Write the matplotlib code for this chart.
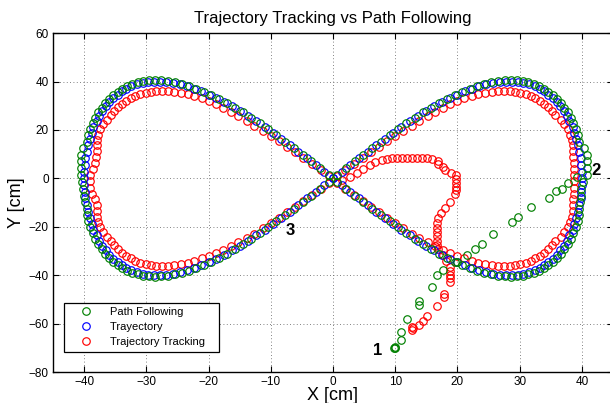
import matplotlib
matplotlib.use('Agg')
import matplotlib.pyplot as plt

plt.rcParams['font.family'] = ['Liberation Sans', 'DejaVu Sans']

# reference trajectory (figure eight)
traj_x = [0, 1.4, 2.8, 4.2, 5.6, 6.9, 8.3, 9.7, 11.0, 12.4, 13.7, 15.0, 16.3, 17.5, 18.8,
          20.0, 21.2, 22.4, 23.5, 24.6, 25.7, 26.8, 27.8, 28.8, 29.7, 30.6, 31.5, 32.4, 33.2,
          33.9, 34.6, 35.3, 36.0, 36.5, 37.1, 37.6, 38.0, 38.5, 38.8, 39.1, 39.4, 39.6, 39.8,
          39.9, 40.0,
          40.0, 40.0, 39.9, 39.8, 39.6, 39.4, 39.1, 38.8, 38.5, 38.0, 37.6, 37.1, 36.5, 36.0,
          35.3, 34.6, 33.9, 33.2, 32.4, 31.5, 30.6, 29.7, 28.8, 27.8, 26.8, 25.7, 24.6, 23.5,
          22.4, 21.2, 20.0, 18.8, 17.5, 16.3, 15.0, 13.7, 12.4, 11.0, 9.7, 8.3, 6.9, 5.6, 4.2,
          2.8, 1.4,
          0, -1.4, -2.8, -4.2, -5.6, -6.9, -8.3, -9.7, -11.0, -12.4, -13.7, -15.0, -16.3, -17.5,
          -18.8, -20.0, -21.2, -22.4, -23.5, -24.6, -25.7, -26.8, -27.8, -28.8, -29.7, -30.6,
          -31.5, -32.4, -33.2, -33.9, -34.6, -35.3, -36.0, -36.5, -37.1, -37.6, -38.0, -38.5,
          -38.8, -39.1, -39.4, -39.6, -39.8, -39.9, -40.0,
          -40.0, -40.0, -39.9, -39.8, -39.6, -39.4, -39.1, -38.8, -38.5, -38.0, -37.6, -37.1,
          -36.5, -36.0, -35.3, -34.6, -33.9, -33.2, -32.4, -31.5, -30.6, -29.7, -28.8, -27.8,
          -26.8, -25.7, -24.6, -23.5, -22.4, -21.2, -20.0, -18.8, -17.5, -16.3, -15.0, -13.7,
          -12.4, -11.0, -9.7, -8.3, -6.9, -5.6, -4.2, -2.8, -1.4]
traj_y = [0, 2.8, 5.6, 8.3, 11.0, 13.7, 16.3, 18.8, 21.2, 23.5, 25.7, 27.8, 29.7, 31.5, 33.2,
          34.6, 36.0, 37.1, 38.0, 38.8, 39.4, 39.8, 40.0, 40.0, 39.8, 39.4, 38.8, 38.0, 37.1,
          36.0, 34.6, 33.2, 31.5, 29.7, 27.8, 25.7, 23.5, 21.2, 18.8, 16.3, 13.7, 11.0, 8.3,
          5.6, 2.8,
          0, -2.8, -5.6, -8.3, -11.0, -13.7, -16.3, -18.8, -21.2, -23.5, -25.7, -27.8, -29.7,
          -31.5, -33.2, -34.6, -36.0, -37.1, -38.0, -38.8, -39.4, -39.8, -40.0, -40.0, -39.8,
          -39.4, -38.8, -38.0, -37.1, -36.0, -34.6, -33.2, -31.5, -29.7, -27.8, -25.7, -23.5,
          -21.2, -18.8, -16.3, -13.7, -11.0, -8.3, -5.6, -2.8,
          0, 2.8, 5.6, 8.3, 11.0, 13.7, 16.3, 18.8, 21.2, 23.5, 25.7, 27.8, 29.7, 31.5, 33.2,
          34.6, 36.0, 37.1, 38.0, 38.8, 39.4, 39.8, 40.0, 40.0, 39.8, 39.4, 38.8, 38.0, 37.1,
          36.0, 34.6, 33.2, 31.5, 29.7, 27.8, 25.7, 23.5, 21.2, 18.8, 16.3, 13.7, 11.0, 8.3,
          5.6, 2.8,
          0, -2.8, -5.6, -8.3, -11.0, -13.7, -16.3, -18.8, -21.2, -23.5, -25.7, -27.8, -29.7,
          -31.5, -33.2, -34.6, -36.0, -37.1, -38.0, -38.8, -39.4, -39.8, -40.0, -40.0, -39.8,
          -39.4, -38.8, -38.0, -37.1, -36.0, -34.6, -33.2, -31.5, -29.7, -27.8, -25.7, -23.5,
          -21.2, -18.8, -16.3, -13.7, -11.0, -8.3, -5.6, -2.8]

# path following: approach from point 1 to point 2, then the loop
pf_start_x = [9.8, 9.9, 10.0, 10.9, 10.9, 11.9, 13.8, 13.8, 15.9, 16.7, 17.7, 20.0, 21.5,
              22.8, 23.9, 25.7, 28.7, 29.7, 31.8, 34.7, 35.8, 36.8, 37.7, 39.2]
pf_start_y = [-70.2, -69.8, -70.0, -66.6, -63.5, -58.0, -52.5, -50.8, -45.0, -40.0, -38.0,
              -34.5, -31.5, -29.0, -27.0, -23.0, -18.0, -16.0, -12.0, -8.3, -5.3, -4.6,
              -1.8, 0.4]
pf_x = [0.7, 2.1, 3.5, 4.9, 6.3, 7.7, 9.1, 10.5, 11.8, 13.2, 14.5, 15.8, 17.1, 18.3, 19.6,
        20.8, 22.0, 23.2, 24.3, 25.4, 26.5, 27.6, 28.6, 29.5, 30.5, 31.4, 32.3, 33.1, 33.9,
        34.6, 35.3, 36.0, 36.6, 37.2, 37.7, 38.2, 38.6, 39.0, 39.3, 39.6, 40.3, 40.8, 40.8,
        40.8, 40.8,
        40.1, 39.9, 39.8, 39.7, 39.6, 39.5, 39.3, 39.0, 38.6, 38.2, 37.7, 37.2, 36.6, 36.0,
        35.3, 34.6, 33.9, 33.1, 32.3, 31.4, 30.5, 29.5, 28.6, 27.6, 26.5, 25.4, 24.3, 23.2,
        22.0, 20.8, 19.6, 18.3, 17.1, 15.8, 14.5, 13.2, 11.8, 10.5, 9.1, 7.7, 6.3, 4.9, 3.5,
        2.1, 0.7,
        -0.7, -2.1, -3.5, -4.9, -6.3, -7.7, -9.1, -10.5, -11.8, -13.2, -14.5, -15.8, -17.1,
        -18.3, -19.6, -20.8, -22.0, -23.2, -24.3, -25.4, -26.5, -27.6, -28.6, -29.5, -30.5,
        -31.4, -32.3, -33.1, -33.9, -34.6, -35.3, -36.0, -36.6, -37.2, -37.7, -38.2, -38.6,
        -39.0, -39.3, -39.6, -40.2, -40.5, -40.5, -40.5, -40.5,
        -40.3, -40.2, -40.0, -39.8, -39.6, -39.5, -39.3, -39.0, -38.6, -38.2, -37.7, -37.2,
        -36.6, -36.0, -35.3, -34.6, -33.9, -33.1, -32.3, -31.4, -30.5, -29.5, -28.6, -27.6,
        -26.5, -25.4, -24.3, -23.2, -22.0, -20.8, -19.6, -18.3, -17.1, -15.8, -14.5, -13.2,
        -11.8, -10.5, -9.1, -7.7, -6.3, -4.9, -3.5, -2.1, -0.7]
pf_y = [1.4, 4.3, 7.1, 9.8, 12.5, 15.2, 17.8, 20.3, 22.7, 25.0, 27.2, 29.2, 31.1, 32.8, 34.4,
        35.8, 37.1, 38.1, 39.0, 39.7, 40.2, 40.5, 40.6, 40.5, 40.2, 39.7, 39.0, 38.1, 37.1,
        35.8, 34.4, 32.8, 31.1, 29.2, 27.2, 25.0, 22.7, 20.3, 17.8, 15.2, 12.5, 9.8, 7.1,
        4.3, 1.4,
        -1.4, -4.3, -7.1, -9.8, -12.5, -15.2, -17.8, -20.3, -22.7, -25.0, -27.2, -29.2, -31.1,
        -32.8, -34.4, -35.8, -37.1, -38.1, -39.0, -39.7, -40.2, -40.5, -40.6, -40.5, -40.2,
        -39.7, -39.0, -38.1, -37.1, -35.8, -34.4, -32.8, -31.1, -29.2, -27.2, -25.0, -22.7,
        -20.3, -17.8, -15.2, -12.5, -9.8, -7.1, -4.3, -1.4,
        1.4, 4.3, 7.1, 9.8, 12.5, 15.2, 17.8, 20.3, 22.7, 25.0, 27.2, 29.2, 31.1, 32.8, 34.4,
        35.8, 37.1, 38.1, 39.0, 39.7, 40.2, 40.5, 40.6, 40.5, 40.2, 39.7, 39.0, 38.1, 37.1,
        35.8, 34.4, 32.8, 31.1, 29.2, 27.2, 25.0, 22.7, 20.3, 17.8, 15.2, 12.5, 9.8, 7.1,
        4.3, 1.4,
        -1.4, -4.3, -7.1, -9.8, -12.5, -15.2, -17.8, -20.3, -22.7, -25.0, -27.2, -29.2, -31.1,
        -32.8, -34.4, -35.8, -37.1, -38.1, -39.0, -39.7, -40.2, -40.5, -40.6, -40.5, -40.2,
        -39.7, -39.0, -38.1, -37.1, -35.8, -34.4, -32.8, -31.1, -29.2, -27.2, -25.0, -22.7,
        -20.3, -17.8, -15.2, -12.5, -9.8, -7.1, -4.3, -1.4]

# trajectory tracking: approach with the small loop, then the (smaller) figure eight
tt_start_x = [12.7, 12.8, 12.7, 13.8, 14.5, 15.1, 16.7, 17.9, 17.9, 18.8, 18.8, 18.8, 18.8,
              18.8, 18.2, 17.6, 16.8, 16.7, 16.7, 16.7, 16.7, 16.7, 16.7, 16.8, 17.3, 18.0,
              18.8, 19.6, 19.7, 19.7, 19.7, 19.7, 19.7, 18.9, 18.0, 17.6, 16.9, 16.8, 15.9,
              15.1, 14.3, 13.5, 12.7, 11.9, 11.1, 10.3, 9.5, 8.7, 7.8, 6.8, 5.9, 4.9, 3.9,
              2.7, 1.5]
tt_start_y = [-62.5, -62.0, -61.6, -60.7, -59.0, -57.0, -52.8, -49.0, -47.6, -42.8, -41.3,
              -39.8, -38.2, -36.7, -34.0, -31.5, -29.0, -27.5, -25.8, -24.0, -22.2, -20.4,
              -18.6, -16.5, -14.5, -12.4, -9.8, -6.3, -4.8, -3.4, -1.8, -0.2, 1.2, 2.2, 3.3,
              4.6, 5.8, 7.0, 8.0, 8.2, 8.3, 8.3, 8.3, 8.3, 8.3, 8.3, 8.2, 8.1, 7.5, 6.6, 5.4,
              3.9, 2.2, 0.6, -0.5]
tt_x = [0.7, 2.0, 3.4, 4.8, 6.1, 7.4, 8.7, 10.0, 11.3, 12.7, 13.9, 15.2, 16.4, 17.6, 18.8,
        20.0, 21.1, 22.3, 23.3, 24.4, 25.5, 26.5, 27.5, 28.4, 29.2, 30.1, 31.0, 31.8, 32.5,
        33.2, 33.9, 34.6, 35.2, 35.7, 36.6, 37.2, 37.7, 38.1, 38.4, 38.5, 38.6, 38.6, 38.7,
        38.8, 38.8,
        38.8, 38.8, 38.7, 38.6, 38.6, 38.5, 38.4, 38.1, 37.7, 37.2, 36.6, 35.7, 35.2, 34.6,
        33.9, 33.2, 32.5, 31.8, 31.0, 30.1, 29.2, 28.4, 27.5, 26.5, 25.5, 24.4, 23.3, 22.3,
        21.1, 20.0, 18.8, 17.6, 16.4, 15.2, 13.9, 12.7, 11.3, 10.0, 8.7, 7.4, 6.1, 4.8, 3.4,
        2.0, 0.7,
        -0.7, -2.0, -3.4, -4.8, -6.1, -7.4, -8.7, -10.0, -11.3, -12.7, -13.9, -15.2, -16.4,
        -17.6, -18.8, -20.0, -21.1, -22.3, -23.3, -24.4, -25.5, -26.5, -27.5, -28.4, -29.2,
        -30.1, -31.0, -31.8, -32.5, -33.2, -33.9, -34.6, -35.2, -35.7, -36.4, -37.0, -37.5,
        -37.8, -37.9, -38.0, -38.0, -38.1, -38.2, -38.5, -39.0,
        -39.0, -39.0, -38.7, -38.2, -38.0, -38.0, -37.9, -37.8, -37.5, -37.0, -36.4, -35.7,
        -35.2, -34.6, -33.9, -33.2, -32.5, -31.8, -31.0, -30.1, -29.2, -28.4, -27.5, -26.5,
        -25.5, -24.4, -23.3, -22.3, -21.1, -20.0, -18.8, -17.6, -16.4, -15.2, -13.9, -12.7,
        -11.3, -10.0, -8.7, -7.4, -6.1, -4.8, -3.4, -2.0, -0.7]
tt_y = [0.8, 3.3, 5.8, 8.2, 10.7, 13.1, 15.4, 17.6, 19.7, 21.8, 23.7, 25.6, 27.4, 29.1, 30.6,
        31.9, 33.1, 34.0, 34.8, 35.4, 35.8, 36.1, 36.2, 36.1, 35.8, 35.4, 34.8, 34.0, 33.1,
        31.9, 30.7, 29.3, 27.7, 26.0, 24.2, 22.3, 20.2, 18.1, 15.9, 13.6, 11.2, 8.7, 6.3,
        3.8, 1.3,
        -1.3, -3.8, -6.3, -8.7, -11.2, -13.6, -15.9, -18.1, -20.2, -22.3, -24.2, -26.0, -27.7,
        -29.3, -30.7, -31.9, -33.1, -34.0, -34.8, -35.4, -35.8, -36.1, -36.2, -36.1, -35.8,
        -35.4, -34.8, -34.0, -33.1, -31.9, -30.9, -29.6, -28.1, -26.5, -24.7, -22.8, -20.7,
        -18.6, -16.4, -14.1, -11.7, -9.2, -6.8, -4.3, -1.8,
        0.8, 3.3, 5.8, 8.2, 10.7, 13.1, 15.4, 17.6, 19.7, 21.8, 23.7, 25.6, 27.4, 29.1, 30.6,
        31.9, 33.1, 34.0, 34.8, 35.4, 35.8, 36.1, 36.2, 36.1, 35.8, 35.4, 34.8, 34.0, 33.1,
        31.9, 30.7, 29.3, 27.7, 26.0, 24.2, 22.3, 20.2, 18.1, 15.9, 13.6, 11.2, 8.7, 6.3,
        3.8, 1.3,
        -1.3, -3.8, -6.3, -8.7, -11.2, -13.6, -15.9, -18.1, -20.2, -22.3, -24.2, -26.0, -27.7,
        -29.3, -30.7, -31.9, -33.1, -34.0, -34.8, -35.4, -35.8, -36.1, -36.2, -36.1, -35.8,
        -35.4, -34.8, -34.0, -33.1, -31.9, -30.9, -29.6, -28.1, -26.5, -24.7, -22.8, -20.7,
        -18.6, -16.4, -14.1, -11.7, -9.2, -6.8, -4.3, -1.8]

marks = ['1', '2', '3']
marks_x = [7.1, 42.2, -6.9]
marks_y = [-71, 3.3, -21.5]

fig = plt.figure(figsize=(6.10, 4.03), dpi=100)
ax = fig.add_axes([0.0869, 0.0769, 0.918, 0.841])

mk = dict(linestyle='none', marker='o', markersize=5.4, markerfacecolor='none',
          markeredgewidth=0.85)
# red underneath, green on top, as in the original figure
r, = ax.plot(tt_start_x + tt_x, tt_start_y + tt_y, color='#ff0000',
             label='Trajectory Tracking', **mk)
b, = ax.plot(traj_x, traj_y, color='#0000ff', label='Trayectory', **mk)
g, = ax.plot(pf_start_x + pf_x, pf_start_y + pf_y, color='#008000',
             label='Path Following', **mk)

for m, mx, my in zip(marks, marks_x, marks_y):
    ax.text(mx, my, m, fontsize=12, fontweight='bold', ha='center', va='center')

ax.set_xlim(-45, 45)
ax.set_ylim(-80, 60)
ax.set_xticks(range(-40, 41, 10))
ax.set_yticks(range(-80, 61, 20))
ax.grid(True, linestyle=(0, (1, 3)), color='0.35', linewidth=0.6)
ax.tick_params(direction='in', top=True, right=True, length=4, labelsize=8.5, width=0.8,
               pad=3)
for s in ax.spines.values():
    s.set_linewidth(1.0)

ax.set_title('Trajectory Tracking vs Path Following', fontsize=12, pad=7)
ax.set_xlabel('X [cm]', fontsize=13, labelpad=-1)
ax.set_ylabel('Y [cm]', fontsize=13, labelpad=3)

legend = ax.legend(handles=[g, b, r], loc='lower left', bbox_to_anchor=(0.015, 0.053),
                   fontsize=8, numpoints=1, fancybox=False, framealpha=1,
                   handlelength=3.2, handletextpad=0.6, borderpad=0.4, labelspacing=0.45,
                   borderaxespad=0.2)
legend.get_frame().set_edgecolor('black')
legend.get_frame().set_linewidth(0.9)
# a little extra room on the right of the legend text, like the original box
for t in legend.get_texts():
    t.set_text(t.get_text() + '   ')

fig.savefig('out.png', dpi=100)
